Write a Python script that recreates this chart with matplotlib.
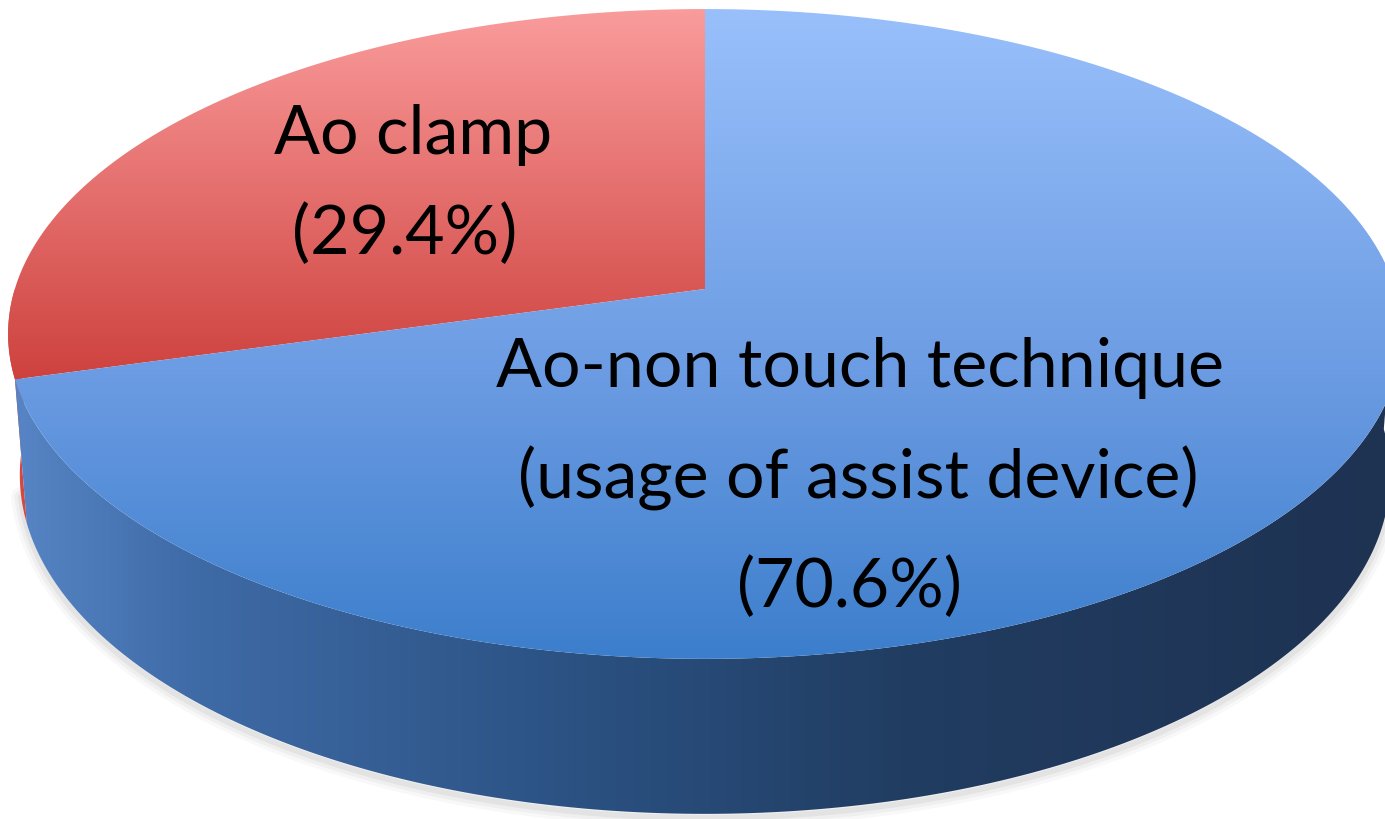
import numpy as np
import matplotlib.pyplot as plt
from matplotlib.patches import Polygon

# data
labels = ["Ao clamp", "Ao-non touch technique\n(usage of assist device)"]
shares = [29.4, 70.6]
top_colors = [[(10, (250, 156, 156)), (378, (206, 66, 62)), (820, (170, 40, 40))],
              [(10, (153, 192, 251)), (370, (108, 156, 227)), (660, (60, 126, 204))]]
side_colors = [(20, (86, 132, 196)), (200, (62, 106, 166)), (600, (42, 80, 128)),
               (900, (33, 61, 98)), (1385, (30, 50, 82))]
red_side = [(0, (215, 70, 64)), (1385, (215, 70, 64))]

W, H = 1385, 820

# perspective camera, in image pixels
cx, cy = 705, 290
f, D = 4424.0, 6.41
tilt = np.radians(27.5)
h = 0.2325


def proj(phi, z=0.0):
    X, Y = np.cos(phi), np.sin(phi)
    depth = D + Y * np.cos(tilt) - z * np.sin(tilt)
    x = cx + f * X / depth
    y = cy - f * (Y * np.sin(tilt) + z * np.cos(tilt)) / depth
    return x, y


def gradient_img(stops, n):
    pos = np.array([s[0] for s in stops], float)
    cols = np.array([s[1] for s in stops], float) / 255.0
    t = np.arange(n) + 0.5
    return np.stack([np.interp(t, pos, cols[:, k]) for k in range(3)], axis=-1)


def grad_fill(ax, verts, stops, vertical, z):
    patch = Polygon(verts, closed=True, facecolor="none", edgecolor="none", zorder=z)
    ax.add_patch(patch)
    if vertical:
        img = gradient_img(stops, H)[:, None, :]
    else:
        img = gradient_img(stops, W)[None, :, :]
    im = ax.imshow(img, extent=(0, W, H, 0), aspect="auto", interpolation="bilinear", zorder=z)
    im.set_clip_path(patch)


fig = plt.figure(figsize=(13.85, 8.2), dpi=100)
ax = fig.add_axes([0, 0, 1, 1])

# slice angles, starting at 12 o'clock and going counter-clockwise
angles = [np.pi / 2]
for s in shares:
    angles.append(angles[-1] + 2 * np.pi * s / 100.0)


def arc(a, b, z=0.0, n=200):
    phi = np.linspace(a, b, n)
    x, y = proj(phi, z)
    return np.column_stack([x, y])


# soft shadow along the bottom rim
rim = arc(np.pi * 1.06, np.pi * 1.94, -h)
for lw, al in [(14, 0.05), (9, 0.07), (4, 0.10)]:
    ax.plot(rim[:, 0], rim[:, 1] + 4, color="#808080", lw=lw, alpha=al,
            solid_capstyle="round", zorder=1)

# side walls (visible front half only)
for i in range(len(shares)):
    a = max(angles[i], np.pi)
    b = min(angles[i + 1], 2 * np.pi)
    if b <= a:
        continue
    verts = np.vstack([arc(a, b), arc(a, b, -h)[::-1]])
    grad_fill(ax, verts, red_side if i == 0 else side_colors, False, 2)

# top face
for i in range(len(shares)):
    verts = np.vstack([[cx, cy], arc(angles[i], angles[i + 1])])
    grad_fill(ax, verts, top_colors[i], True, 3)

# labels
font = dict(family="Lato", fontsize=49, color="black", ha="center", va="center", zorder=5)
ax.text(413, 135, labels[0], **font)
ax.text(405, 235, "(%.1f%%)" % shares[0], **font)
lines = labels[1].split("\n")
ax.text(860, 368, lines[0], **font)
ax.text(858, 478, lines[1], **font)
ax.text(849, 588, "(%.1f%%)" % shares[1], **font)

ax.set_xlim(0, W)
ax.set_ylim(H, 0)
ax.axis("off")
fig.savefig("out.png", dpi=100)
